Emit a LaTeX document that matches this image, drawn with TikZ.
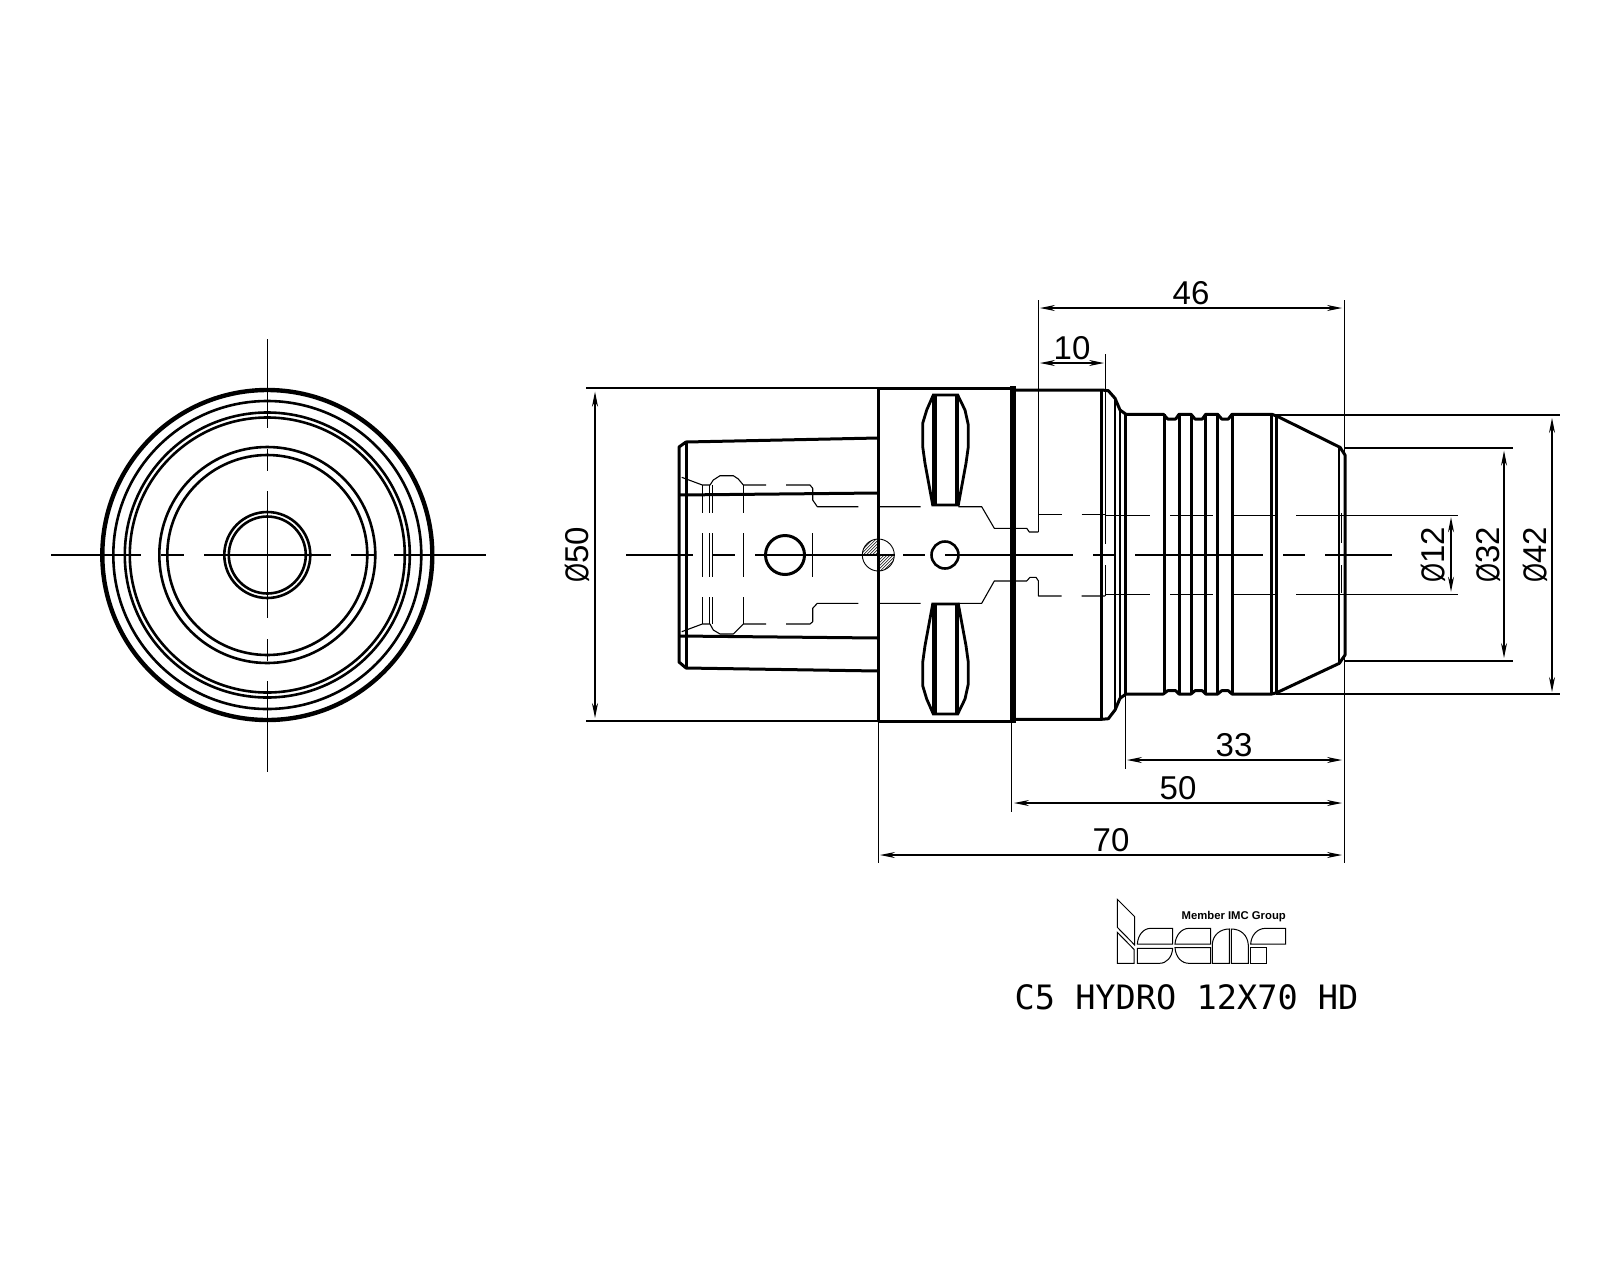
\documentclass[tikz,border=0pt]{standalone}
\usepackage{fontspec}
\setmainfont{Liberation Sans}
\newfontfamily\cadmono{DejaVu Sans Mono}
\usetikzlibrary{arrows.meta}
\tikzset{
  thinline/.style={line width=1.2pt,line cap=butt,line join=miter},
  hiddenline/.style={line width=1.1pt,line join=round},
  outline/.style={line width=3pt,line join=round},
  heavy/.style={line width=4.4pt},
  ring/.style={line width=2.6pt},
  dimline/.style={line width=1.2pt,{Stealth[length=15pt,width=6pt]}-{Stealth[length=15pt,width=6pt]}},
  dimtext/.style={inner sep=0pt,font=\fontsize{33}{33}\selectfont},
  dimvert/.style={dimtext,rotate=90},
  logoline/.style={line width=1pt,line join=miter},
}
\newcommand{\dia}{\scalebox{0.74}[1]{Ø}}
\begin{document}
\begin{tikzpicture}[x=1pt,y=-1pt]
\useasboundingbox (0,0) rectangle (1600,1280);
\fill[white] (0,0) rectangle (1600,1280);

% ---------- end view ----------
\coordinate (c) at (267.3,555);
\draw[heavy] (c) circle[radius=165pt];
\foreach \r in {154,142.5,137.5,108,100,43,38.5}
  \draw[ring] (c) circle[radius=\r pt];
\draw[thinline] (267.3,339)--(267.3,428) (267.3,449)--(267.3,471) (267.3,491)--(267.3,618)
  (267.3,639)--(267.3,661) (267.3,681)--(267.3,772);
\draw[thinline] (51,555)--(141,555) (161,555)--(184,555) (204,555)--(331,555)
  (351,555)--(374,555) (394,555)--(486,555);

% ---------- side view: centre line ----------
\draw[thinline] (626,555)--(693,555) (713,555)--(735,555) (755,555)--(895,555)
  (903,555)--(925,555) (945,555)--(1073,555) (1093,555)--(1115,555) (1135,555)--(1263,555)
  (1283,555)--(1305,555) (1325,555)--(1392,555);

% ---------- shank ----------
\draw[outline] (878,438)--(686,442)--(679,447)--(679,662)--(686,668)--(878,671);
\draw[outline] (686,442)--(686,668);
\draw[outline] (679,495)--(878,493);
\draw[outline] (679,636)--(878,638);
\draw[line width=3pt] (785,555) circle[radius=19.5pt];

% ---------- hidden lines in shank ----------
\draw[hiddenline] (681.7,477.3)--(702.3,485)--(710,485)--(713.3,480)--(720,475.7)--(733.3,475.7)--(738.3,479)--(743.3,485)--(766,485);
\draw[hiddenline] (786,485)--(810,485)--(812.7,488.3)--(812.7,500)--(817.3,506.7)--(858.3,506.7);
\draw[hiddenline] (681.7,631.7)--(702.3,624)--(710,624)--(713.3,630)--(720,634)--(733.3,634)--(743.3,624)--(766,624);
\draw[hiddenline] (786,624)--(810,624)--(812.7,621.7)--(812.7,608.3)--(817.3,603.3)--(858.3,603.3);
\foreach \x in {702.3,709.3,712.3,743.3}
  \draw[hiddenline] (\x,485)--(\x,513) (\x,533)--(\x,577) (\x,597)--(\x,624);
\draw[hiddenline] (812.7,533)--(812.7,577);

% ---------- hatched pin ----------
\begin{scope}
  \clip (878.3,555) circle[radius=16pt];
  \clip (862,539) rectangle (878.3,555) (878.3,555) rectangle (895,571);
  \foreach \d in {-42,-39,...,42}
    \draw[line width=0.5pt] (878.3+\d-20,555+20)--(878.3+\d+20,555-20);
\end{scope}
\draw[line width=0.9pt] (878.3,555) circle[radius=16pt];

% ---------- flange ----------
\draw[outline] (1013,388)--(878,388)--(878,721)--(1013,721);
\draw[line width=6pt] (1013,386)--(1013,723);
\draw[line width=2.8pt] (933.3,395)--(926.7,410)--(922.7,423.3)--(922.7,446.7)--(925,463.3)--(932.7,505)--(958.3,505)--(966,463.3)--(968.3,446.7)--(968.3,425)--(965,410)--(957.7,395)--cycle;
\draw[line width=4.4pt] (934.3,395)--(934.3,505) (956.7,395)--(956.7,505);
\draw[line width=2.8pt] (933.3,714)--(926.7,699)--(922.7,685.7)--(922.7,662.3)--(925,645.7)--(932.7,604)--(958.3,604)--(966,645.7)--(968.3,662.3)--(968.3,684)--(965,699)--(957.7,714)--cycle;
\draw[line width=4.4pt] (934.3,604)--(934.3,714) (956.7,604)--(956.7,714);
\draw[ring] (945,555) circle[radius=13.5pt];

% ---------- hidden lines in flange and head ----------
\draw[hiddenline] (880,506.7)--(920.7,506.7) (958.3,506.7)--(981.7,506.7)--(994.3,528.3)--(1026.7,528.3)--(1029.3,532)--(1038.3,532);
\draw[hiddenline] (880,603.3)--(920.7,603.3) (958.3,603.3)--(981.7,603.3)--(994.3,581)--(1026.7,581)--(1030,577.3)--(1036,577.3)--(1038.3,580.7)--(1038.3,596)--(1061.7,596) (1081.7,596)--(1105,596);
\draw[hiddenline] (1038.3,514.3)--(1061.7,514.3) (1081.7,514.3)--(1105,514.3);
\foreach \y in {515.3,594.3}
  \draw[hiddenline] (1105,\y)--(1150,\y) (1170,\y)--(1212.7,\y) (1233.3,\y)--(1276,\y) (1296,\y)--(1458,\y);
\draw[hiddenline] (1105.7,354)--(1105.7,544) (1105.7,565)--(1105.7,596);
\draw[hiddenline] (1341.7,513)--(1341.7,543) (1341.7,565)--(1341.7,593);
\draw[hiddenline] (1038.3,300)--(1038.3,532);

% ---------- head ----------
\draw[outline] (1016,390)--(1101.7,390)--(1108.3,390.7)--(1115,398.3)--(1120,410)--(1126,414.3)--(1163.3,414.3)--(1167.7,419)--(1175.7,419)--(1179,414.3)--(1191,414.3)--(1195,419)--(1202.3,419)--(1205.7,414.3)--(1217.7,414.3)--(1221.7,419)--(1228.3,419)--(1232,414.3)--(1271.7,414.3)--(1276.7,416)--(1340,447.3)--(1345,455)--(1345,655)--(1339.3,663.3)--(1276.7,692.7)--(1271.7,694)--(1232,694)--(1228.3,690.7)--(1221.7,690.7)--(1217.7,694)--(1205.7,694)--(1202.3,690.7)--(1195,690.7)--(1191,694)--(1179,694)--(1175.7,690.7)--(1167.7,690.7)--(1163.3,694)--(1126,694)--(1120,698.3)--(1115,710)--(1108.3,718.7)--(1101.7,719.3)--(1016,719.3);
\draw[outline] (1101.7,390)--(1101.7,719.3);
\draw[ring] (1115,398.3)--(1115,710) (1120,410)--(1120,698.3);
\draw[outline] (1125.3,414.3)--(1125.3,694);
\draw[outline] (1164,414.3)--(1164,694) (1179,414.3)--(1179,694) (1191,414.3)--(1191,694)
  (1205.7,414.3)--(1205.7,694) (1217.7,414.3)--(1217.7,694) (1232,414.3)--(1232,694)
  (1271.7,414.3)--(1271.7,694) (1276,416)--(1276,693);
\draw[ring] (1339,447.3)--(1339,663);

% ---------- extension lines ----------
\draw[thinline] (586,388)--(878,388) (586,721)--(878,721);
\draw[thinline] (878.3,721)--(878.3,863) (1011.7,721)--(1011.7,812) (1125.3,694)--(1125.3,769);
\draw[thinline] (1344.3,300)--(1344.3,863);
\draw[thinline] (1276,415)--(1560,415) (1276,694)--(1560,694) (1344,448)--(1513,448) (1344,661)--(1513,661);

% ---------- dimensions ----------
\draw[dimline] (595,391.7)--(595,718);
\draw[dimline] (1040,308)--(1342,308);
\draw[dimline] (1040,363)--(1104,363);
\draw[dimline] (1127,760)--(1342,760);
\draw[dimline] (1014,803)--(1342,803);
\draw[dimline] (880,855)--(1342,855);
\draw[dimline] (1451,517.3)--(1451,591.7);
\draw[dimline] (1504,450.7)--(1504,658);
\draw[dimline] (1552,418)--(1552,692);
\node[dimtext] (d46) at (1191,293) {46};
\node[dimtext] (d10) at (1072,348) {10};
\node[dimtext] (d33) at (1234,745) {33};
\node[dimtext] (d50) at (1178,788) {50};
\node[dimtext] (d70) at (1111,840) {70};
\node[dimvert] (o50) at (577,555) {\dia50};
\node[dimvert] (o12) at (1433,555) {\dia12};
\node[dimvert] (o32) at (1488,555) {\dia32};
\node[dimvert] (o42) at (1535,555) {\dia42};

% ---------- logo ----------
\begin{scope}[shift={(1000,880)},x=0.3333pt,y=-0.3333pt]
\draw[logoline] (352,58)--(404,110)--(404,195)--(352,142)--cycle;
\draw[logoline] (352,157)--(402,208)--(402,250)--(352,250)--cycle;
\draw[logoline] (412,192) .. controls (414,165) and (430,145) .. (452,145)--(518,145)--(518,192)--cycle;
\draw[logoline] (412,205)--(518,205) .. controls (516,232) and (500,250) .. (478,250)--(412,250)--cycle;
\draw[logoline] (525,192) .. controls (527,165) and (545,145) .. (567,145)--(632,145)--(632,192)--cycle;
\draw[logoline] (525,203)--(632,203)--(632,250)--(567,250) .. controls (545,250) and (527,232) .. (525,203)--cycle;
\draw[logoline] (637,250)--(637,192) .. controls (639,165) and (660,147) .. (688,147)--(688,250)--cycle;
\draw[logoline] (694,147) .. controls (722,147) and (743,165) .. (745,195)--(745,250)--(694,250)--cycle;
\draw[logoline] (752,192) .. controls (754,165) and (772,145) .. (797,145)--(857,145)--(857,192)--cycle;
\draw[logoline] (752,203)--(800,203)--(800,250)--(752,250)--cycle;
\end{scope}
\node[inner sep=0pt,font=\bfseries\fontsize{11.3}{11.3}\selectfont] (member) at (1233.7,917) {Member IMC Group};
\node[inner sep=0pt,font=\cadmono\fontsize{33.6}{34}\selectfont] (title) at (1186.5,997) {C5 HYDRO 12X70 HD};
\end{tikzpicture}
\end{document}
